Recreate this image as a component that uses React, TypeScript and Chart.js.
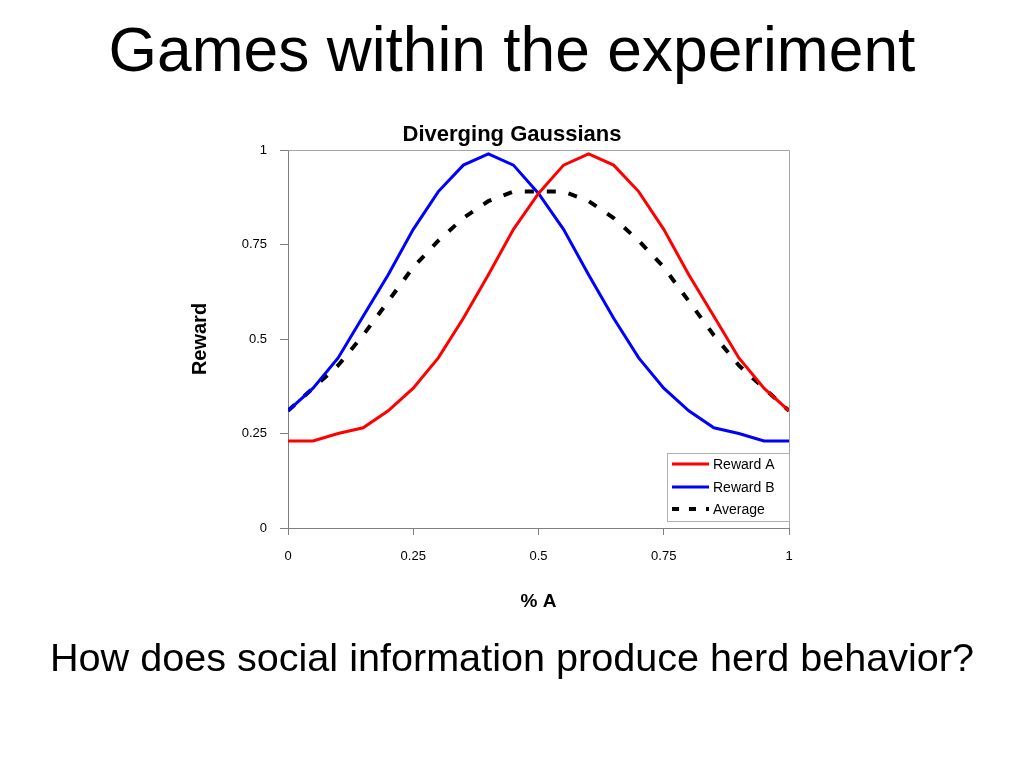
import React, { useEffect, useRef } from "react";
import { Chart, registerables } from "chart.js";

Chart.register(...registerables);

const xValues = [0, 0.05, 0.1, 0.15, 0.2, 0.25, 0.3, 0.35, 0.4, 0.45, 0.5, 0.55, 0.6, 0.65, 0.7, 0.75, 0.8, 0.85, 0.9, 0.95, 1];
const rewardA = [0.23, 0.23, 0.25, 0.265, 0.31, 0.37, 0.45, 0.555, 0.67, 0.79, 0.885, 0.96, 0.99, 0.96, 0.89, 0.79, 0.67, 0.56, 0.45, 0.37, 0.31];
const rewardB = [0.31, 0.37, 0.45, 0.56, 0.67, 0.79, 0.89, 0.96, 0.99, 0.96, 0.885, 0.79, 0.67, 0.555, 0.45, 0.37, 0.31, 0.265, 0.25, 0.23, 0.23];
const average = [0.31, 0.37, 0.43, 0.51, 0.6, 0.69, 0.76, 0.82, 0.865, 0.89, 0.89, 0.89, 0.865, 0.82, 0.76, 0.69, 0.6, 0.51, 0.43, 0.37, 0.31];
const seriesNames = ["Reward A", "Reward B", "Average"];
const tickValues = [0, 0.25, 0.5, 0.75, 1];
const tickLabels = ["0", "0.25", "0.5", "0.75", "1"];

const FONT = "'Liberation Sans', Arial, Helvetica, sans-serif";

const framePlugin = {
  id: "frame",
  afterDatasetsDraw(chart: any) {
    const { ctx, chartArea } = chart;
    ctx.save();
    ctx.strokeStyle = "#a6a6a6";
    ctx.lineWidth = 1;
    ctx.beginPath();
    ctx.moveTo(chartArea.left, chartArea.top + 0.5);
    ctx.lineTo(chartArea.right + 0.5, chartArea.top + 0.5);
    ctx.lineTo(chartArea.right + 0.5, chartArea.bottom);
    ctx.stroke();
    ctx.restore();
  },
};

const legendPlugin = {
  id: "boxLegend",
  afterDraw(chart: any) {
    const { ctx, chartArea } = chart;
    const w = 123;
    const h = 69;
    const right = chartArea.right + 1;
    const left = right - w;
    const bottom = chartArea.bottom - 6;
    const top = bottom - h;
    ctx.save();
    ctx.fillStyle = "#ffffff";
    ctx.fillRect(left, top, w, h);
    ctx.strokeStyle = "#b0b0b0";
    ctx.lineWidth = 1;
    ctx.strokeRect(left + 0.5, top + 0.5, w - 1, h - 1);
    const rows = [11, 34, 56];
    chart.data.datasets.forEach((ds: any, i: number) => {
      const y = top + rows[i];
      ctx.beginPath();
      ctx.strokeStyle = ds.borderColor;
      ctx.lineWidth = ds.borderWidth;
      ctx.setLineDash(ds.borderDash && ds.borderDash.length ? [7, 10] : []);
      ctx.moveTo(left + 5, y);
      ctx.lineTo(left + 42, y);
      ctx.stroke();
      ctx.setLineDash([]);
      ctx.fillStyle = "#000";
      ctx.font = `14px ${FONT}`;
      ctx.textBaseline = "middle";
      ctx.textAlign = "left";
      ctx.fillText(ds.label, left + 46, y + 1);
    });
    ctx.restore();
  },
};

export default function App() {
  const ref = useRef<HTMLCanvasElement>(null);

  useEffect(() => {
    document.body.style.margin = "0";
    const canvas = ref.current!;
    const toPts = (arr: number[]) => arr.map((v, i) => ({ x: xValues[i], y: v }));
    const chart = new Chart(canvas, {
      type: "line",
      data: {
        datasets: [
          { label: seriesNames[0], data: toPts(rewardA), borderColor: "#ff0000", backgroundColor: "#ff0000", borderWidth: 3, pointRadius: 0, tension: 0, fill: false },
          { label: seriesNames[1], data: toPts(rewardB), borderColor: "#0000ff", backgroundColor: "#0000ff", borderWidth: 3, pointRadius: 0, tension: 0, fill: false },
          { label: seriesNames[2], data: toPts(average), borderColor: "#000000", backgroundColor: "#000000", borderWidth: 4, borderDash: [9, 13], pointRadius: 0, tension: 0, fill: false },
        ],
      },
      options: {
        responsive: false,
        animation: false,
        devicePixelRatio: 1,
        layout: { padding: { left: 180, right: 235, top: 150, bottom: 150 } },
        plugins: {
          legend: { display: false },
          tooltip: { enabled: false },
          title: { display: false },
        },
        scales: {
          x: {
            type: "linear",
            min: 0,
            max: 1,
            afterFit: (s: any) => { s.height = 90; },
            afterBuildTicks: (s: any) => { s.ticks = tickValues.map((v) => ({ value: v })); },
            ticks: {
              color: "#000",
              font: { family: FONT, size: 13 },
              padding: 14,
              maxRotation: 0,
              autoSkip: false,
              callback: (v: any) => tickLabels[tickValues.indexOf(Number(v))] ?? "",
            },
            grid: { drawOnChartArea: false, drawTicks: true, tickLength: 7, color: "#808080" },
            border: { display: true, color: "#808080", width: 1 },
            title: {
              display: true,
              text: "% A",
              color: "#000",
              font: { family: FONT, size: 19, weight: "bold", lineHeight: 1.2 },
              padding: { top: 0, bottom: 5 },
            },
          },
          y: {
            type: "linear",
            min: 0,
            max: 1,
            afterFit: (s: any) => { s.width = 108; },
            afterBuildTicks: (s: any) => { s.ticks = tickValues.map((v) => ({ value: v })); },
            ticks: {
              color: "#000",
              font: { family: FONT, size: 13 },
              padding: 13,
              autoSkip: false,
              callback: (v: any) => tickLabels[tickValues.indexOf(Number(v))] ?? "",
            },
            grid: { drawOnChartArea: false, drawTicks: true, tickLength: 8, color: "#808080" },
            border: { display: true, color: "#808080", width: 1 },
            title: {
              display: true,
              text: "Reward",
              color: "#000",
              font: { family: FONT, size: 20, weight: "bold", lineHeight: 1.2 },
              padding: { top: 8, bottom: 0 },
            },
          },
        },
      },
      plugins: [framePlugin, legendPlugin],
    } as any);
    return () => chart.destroy();
  }, []);

  return (
    <div style={{ position: "absolute", left: 0, top: 0, width: 1024, height: 768, background: "#fff", overflow: "hidden" }}>
      <div
        style={{
          position: "absolute", left: 0, top: 18.5, width: 1024, textAlign: "center",
          fontFamily: FONT, fontSize: 62.3, lineHeight: "62px", color: "#000", whiteSpace: "nowrap",
        }}
      >
        Games within the experiment
      </div>
      <canvas ref={ref} width={1024} height={768} style={{ position: "absolute", left: 0, top: 0, width: 1024, height: 768 }} />
      <div
        style={{
          position: "absolute", left: 0, top: 123, width: 1024, textAlign: "center",
          fontFamily: FONT, fontSize: 22, fontWeight: "bold", lineHeight: "22px", color: "#000", whiteSpace: "nowrap",
        }}
      >
        Diverging Gaussians
      </div>
      <div
        style={{
          position: "absolute", left: 0, top: 637, width: 1024, textAlign: "center",
          fontFamily: FONT, fontSize: 39.6, lineHeight: "40px", color: "#000", whiteSpace: "nowrap",
        }}
      >
        How does social information produce herd behavior?
      </div>
    </div>
  );
}
